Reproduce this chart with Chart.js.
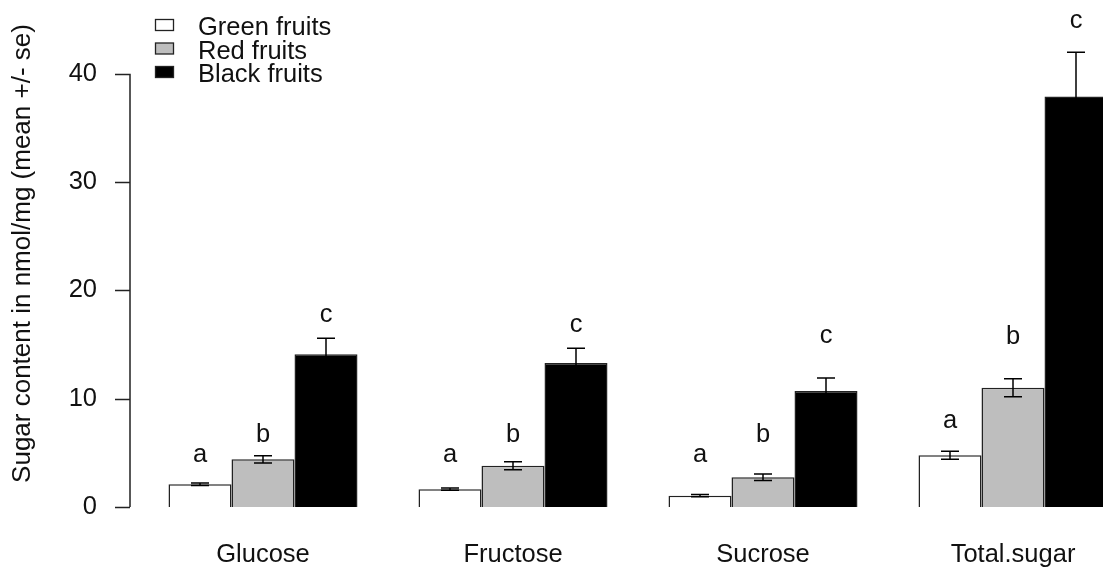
<!DOCTYPE html>
<html>
<head>
<meta charset="utf-8">
<script src="https://cdn.jsdelivr.net/npm/chart.js@4.4.1/dist/chart.umd.min.js"></script>
<style>
  html, body { margin: 0; padding: 0; overflow: hidden; background: #fff; }
  #wrap { width: 1140px; height: 570px; }
</style>
</head>
<body>
<div id="wrap"><canvas id="myChart"></canvas></div>
<script>
const categories = ["Glucose", "Fructose", "Sucrose", "Total.sugar"];
const seriesNames = ["Green fruits", "Red fruits", "Black fruits"];
const seriesColors = ["#ffffff", "#bebebe", "#000000"];

const greenMean = [2.1, 1.65, 1.05, 4.77];
const greenSe = [0.12, 0.1, 0.1, 0.37];
const redMean = [4.4, 3.8, 2.75, 11.0];
const redSe = [0.33, 0.37, 0.3, 0.83];
const blackMean = [14.1, 13.3, 10.7, 37.9];
const blackSe = [1.47, 1.35, 1.2, 4.07];

const greenLetters = ["a", "a", "a", "a"];
const redLetters = ["b", "b", "b", "b"];
const blackLetters = ["c", "c", "c", "c"];
const greenLetterY = [4.15, 4.15, 4.15, 7.3];
const redLetterY = [6.0, 6.0, 6.0, 15.05];
const blackLetterY = [17.1, 16.2, 15.1, 44.2];

const yTicks = [0, 10, 20, 30, 40];

const FONT = "'Liberation Sans', Arial, sans-serif";
const INK = "#111";
Chart.defaults.font.family = FONT;

// error bars, letters, R-style y axis and legend
const extras = {
  id: "extras",
  afterDatasetsDraw(chart) {
    const ctx = chart.ctx;
    const y = chart.scales.y;
    ctx.save();
    ctx.strokeStyle = "#000";
    ctx.lineWidth = 1.5;
    ctx.fillStyle = INK;
    ctx.font = "25.5px " + FONT;
    ctx.textAlign = "center";
    ctx.textBaseline = "alphabetic";
    chart.data.datasets.forEach((ds, i) => {
      const meta = chart.getDatasetMeta(i);
      meta.data.forEach((bar, j) => {
        const top = y.getPixelForValue(ds.data[j] + ds.se[j]);
        const bot = y.getPixelForValue(ds.data[j] - ds.se[j]);
        ctx.beginPath();
        ctx.moveTo(bar.x, top);
        ctx.lineTo(bar.x, bot);
        ctx.moveTo(bar.x - 9, top);
        ctx.lineTo(bar.x + 9, top);
        ctx.moveTo(bar.x - 9, bot);
        ctx.lineTo(bar.x + 9, bot);
        ctx.stroke();
        ctx.fillText(ds.letters[j], bar.x, y.getPixelForValue(ds.letterY[j]));
      });
    });

    // y axis line with ticks
    const ax = 130;
    ctx.strokeStyle = "#222";
    ctx.beginPath();
    ctx.moveTo(ax, y.getPixelForValue(yTicks[0]));
    ctx.lineTo(ax, y.getPixelForValue(yTicks[yTicks.length - 1]));
    yTicks.forEach((v) => {
      const py = Math.round(y.getPixelForValue(v)) + 0.5;
      ctx.moveTo(ax - 15, py);
      ctx.lineTo(ax, py);
    });
    ctx.stroke();

    // legend
    ctx.textAlign = "left";
    ctx.lineWidth = 1.3;
    seriesNames.forEach((name, i) => {
      const base = 35 + 23.5 * i;
      ctx.fillStyle = seriesColors[i];
      ctx.fillRect(155.5, base - 15.5, 18, 11);
      ctx.strokeRect(155.5, base - 15.5, 18, 11);
      ctx.fillStyle = INK;
      ctx.fillText(name, 198, base);
    });
    ctx.restore();
  },
};

function makeSet(i, mean, se, letters, letterY) {
  return {
    label: seriesNames[i],
    data: mean,
    se: se,
    letters: letters,
    letterY: letterY,
    backgroundColor: seriesColors[i],
    borderColor: "#222",
    borderWidth: 1.5,
    categoryPercentage: 0.756,
    barPercentage: 1.0,
  };
}

const ctx = document.getElementById("myChart").getContext("2d");
const myChart = new Chart(ctx, {
  type: "bar",
  data: {
    labels: categories,
    datasets: [
      makeSet(0, greenMean, greenSe, greenLetters, greenLetterY),
      makeSet(1, redMean, redSe, redLetters, redLetterY),
      makeSet(2, blackMean, blackSe, blackLetters, blackLetterY),
    ],
  },
  options: {
    animation: false,
    responsive: true,
    maintainAspectRatio: false,
    layout: { padding: { top: 0, right: 2, bottom: 0, left: 0 } },
    scales: {
      x: {
        grid: { display: false, drawTicks: false },
        border: { display: false },
        ticks: { padding: 33, color: INK, font: { size: 25.5 } },
        afterFit: (s) => {
          s.height = 63;
          s.paddingLeft = 0;
          s.paddingRight = 0;
        },
      },
      y: {
        min: 0,
        max: 46.8,
        afterBuildTicks: (s) => { s.ticks = yTicks.map((v) => ({ value: v })); },
        afterFit: (s) => {
          s.width = 138;
          s.paddingTop = 0;
          s.paddingBottom = 0;
        },
        grid: { display: false, drawTicks: false },
        border: { display: false },
        ticks: { padding: 41, color: INK, font: { size: 25.5 } },
        title: {
          display: true,
          text: "Sugar content in nmol/mg (mean +/- se)",
          color: INK,
          font: { size: 26 },
          padding: { top: 7, bottom: 0 },
        },
      },
    },
    plugins: {
      legend: { display: false },
      tooltip: { enabled: false },
    },
  },
  plugins: [extras],
});
</script>
</body>
</html>
